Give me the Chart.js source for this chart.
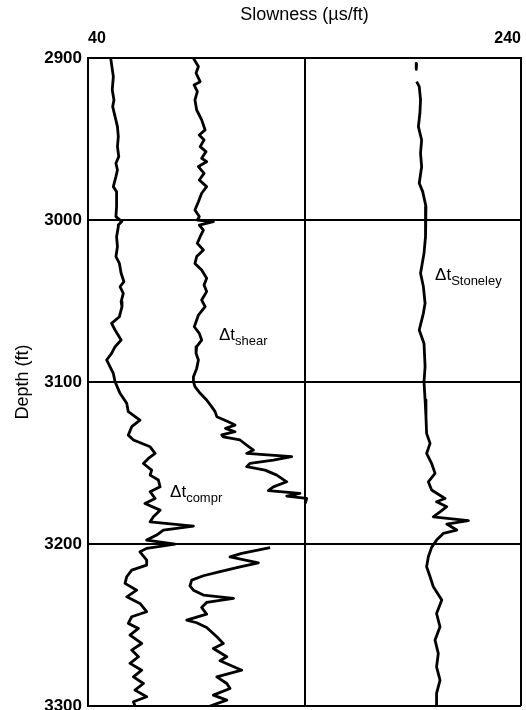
<!DOCTYPE html>
<html>
<head>
<meta charset="utf-8">
<script src="https://cdn.jsdelivr.net/npm/chart.js@4/dist/chart.umd.min.js"></script>
<style>
  html, body { margin: 0; padding: 0; background: white; overflow: hidden; }
  #wrap { width: 526px; height: 710px; }
</style>
</head>
<body>
<div id="wrap"><canvas id="log"></canvas></div>
<script>
// Color used for every line, grid and text in the log plot.
INK = 'black';
FONT = '"Liberation Sans", Arial, Helvetica, sans-serif';

// Depth axis (ft) and slowness axis (us/ft) ranges.
DEPTH_TICKS = [2900, 3000, 3100, 3200, 3300];
SLOWNESS_TICKS = [40, 140, 240];

// Compressional slowness trace.
COMPR_DEPTH = [2900.2, 2911.5, 2919.7, 2925.9, 2930.0, 2936.2, 2942.4, 2948.5, 2954.7, 2960.9,
    2965.0, 2969.1, 2973.2, 2979.4, 2982.5, 2991.7, 2997.9, 3001.0, 3003.1, 3004.1,
    3010.3, 3016.5, 3022.6, 3026.8, 3032.9, 3038.1, 3041.2, 3045.3, 3050.4, 3053.5,
    3059.7, 3063.8, 3067.9, 3074.1, 3078.2, 3082.3, 3086.4, 3090.6, 3094.7, 3099.8,
    3107.0, 3113.2, 3118.3, 3123.5, 3127.6, 3132.8, 3135.8, 3140.0, 3144.1, 3147.2,
    3150.3, 3154.4, 3157.5, 3160.5, 3164.7, 3167.7, 3171.9, 3175.0, 3179.1, 3183.2,
    3186.3, 3189.0, 3191.4, 3194.5, 3197.6, 3200.1, 3202.7, 3204.8, 3209.9, 3213.0,
    3216.1, 3220.2, 3224.3, 3228.5, 3232.6, 3236.7, 3241.8, 3244.9, 3249.0, 3252.1,
    3256.2, 3261.4, 3265.5, 3269.6, 3273.7, 3277.9, 3282.0, 3286.1, 3290.2, 3294.3,
    3297.4, 3300.0];
COMPR_SLOW = [50.5, 51.7, 51.2, 52.0, 51.4, 52.5, 53.6, 54.0, 53.6, 54.2,
    52.9, 53.6, 52.9, 51.7, 53.2, 53.2, 52.9, 55.6, 54.0, 54.0,
    53.2, 53.6, 52.9, 54.5, 55.3, 56.6, 54.8, 56.3, 55.3, 55.7,
    54.5, 50.9, 52.5, 55.3, 52.5, 50.9, 48.6, 50.2, 51.7, 52.5,
    54.8, 57.9, 58.6, 64.0, 60.2, 58.6, 61.0, 68.7, 71.0, 67.9,
    65.6, 69.4, 68.7, 72.5, 73.3, 68.7, 71.0, 66.3, 73.3, 70.2,
    68.7, 88.7, 74.8, 71.7, 67.1, 80.2, 67.1, 64.0, 67.1, 67.1,
    60.2, 57.9, 57.1, 62.5, 57.9, 64.0, 67.1, 60.2, 58.6, 63.3,
    59.4, 64.8, 60.2, 63.3, 59.4, 64.8, 61.0, 65.6, 61.7, 67.1,
    61.0, 61.7];

// Shear slowness trace (null marks the break in the record near 3170-3200 ft).
SHEAR_DEPTH = [2900.2, 2905.3, 2909.4, 2914.6, 2916.6, 2920.7, 2925.9, 2932.1, 2938.2, 2944.4,
    2947.5, 2950.6, 2954.7, 2957.8, 2961.9, 2964.0, 2967.0, 2971.2, 2975.3, 2979.4,
    2983.5, 2988.7, 2993.8, 2997.9, 3000.0, 3001.0, 3003.1, 3006.2, 3010.3, 3014.4,
    3018.5, 3022.6, 3026.8, 3030.9, 3036.0, 3040.1, 3044.2, 3049.4, 3053.5, 3058.7,
    3061.7, 3065.9, 3070.0, 3074.1, 3078.2, 3082.3, 3086.4, 3091.6, 3096.7, 3099.8,
    3102.9, 3107.0, 3111.1, 3115.2, 3118.3, 3121.4, 3124.5, 3126.6, 3128.6, 3130.7,
    3132.7, 3133.8, 3135.8, 3138.9, 3142.0, 3144.1, 3146.1, 3148.2, 3150.3, 3152.3,
    3154.4, 3157.5, 3161.6, 3164.7, 3167.1, 3168.8, 3170.4, 3171.9, 3175.0, 3188.0,
    3202.3, 3205.8, 3207.9, 3211.6, 3214.1, 3217.1, 3219.6, 3222.3, 3225.8, 3228.5,
    3231.5, 3233.6, 3236.1, 3239.2, 3243.3, 3247.0, 3248.6, 3251.5, 3257.3, 3261.4,
    3264.5, 3269.6, 3272.1, 3277.9, 3282.0, 3286.1, 3289.2, 3293.3, 3296.4, 3300.0];
SHEAR_SLOW = [88.7, 91.0, 89.9, 91.8, 89.0, 90.5, 89.4, 90.2, 92.5, 94.1,
    91.4, 93.6, 91.8, 94.5, 92.5, 94.8, 91.0, 93.6, 91.4, 94.8,
    92.5, 91.0, 89.4, 91.4, 90.5, 97.9, 91.4, 93.3, 91.8, 90.5,
    93.3, 90.2, 89.4, 92.5, 94.8, 93.6, 94.8, 92.5, 94.1, 91.0,
    90.2, 89.1, 91.4, 92.5, 90.2, 89.9, 91.0, 90.2, 88.7, 88.7,
    89.4, 91.8, 94.8, 97.1, 98.7, 99.5, 104.8, 107.9, 103.5, 107.9,
    101.8, 102.5, 110.2, 113.3, 116.4, 113.3, 134.1, 125.6, 114.8, 113.3,
    121.8, 127.2, 131.8, 125.6, 123.3, 137.9, 131.8, 141.0, 140.3, null,
    124.1, 111.0, 105.6, 118.7, 110.2, 101.0, 93.3, 87.9, 87.1, 88.7,
    93.3, 107.2, 94.8, 92.5, 94.8, 85.6, 90.2, 94.8, 99.5, 102.5,
    97.9, 104.1, 101.0, 111.0, 99.5, 104.1, 105.6, 97.9, 104.1, 96.4];

// Stoneley slowness trace (short isolated dash at the top, then the main record).
STONELEY_DEPTH = [2903.3, 2907.0, 2910.5,
    2914.6, 2917.7, 2925.9, 2934.1, 2942.4, 2950.6, 2958.8, 2967.1, 2977.3, 2982.5,
    2991.7, 2999.6, 3010.3, 3020.6, 3032.9, 3041.1, 3051.4, 3057.6, 3067.9, 3076.2,
    3090.6, 3100.0, 3111.1, 3121.4, 3131.7, 3137.9, 3144.1, 3150.2, 3156.4, 3161.6,
    3166.7, 3171.9, 3173.9, 3177.0, 3180.1, 3183.2, 3185.6, 3187.7, 3191.4, 3193.5,
    3197.6, 3202.1, 3207.9, 3214.0, 3220.2, 3226.4, 3234.6, 3242.9, 3251.1, 3259.3,
    3267.6, 3275.8, 3284.0, 3292.2, 3300.0];
STONELEY_SLOW = [191.8, 191.6, null,
    191.8, 193.0, 193.6, 193.3, 192.6, 194.1, 193.6, 194.1, 193.0, 194.6,
    196.1, 195.7, 196.1, 195.2, 193.6, 194.9, 195.7, 194.9, 193.0, 195.2,
    195.7, 195.2, 195.7, 196.1, 196.4, 198.0, 196.4, 198.7, 200.3, 197.2,
    198.7, 204.9, 201.0, 205.7, 202.6, 199.5, 215.7, 205.7, 210.3, 204.1,
    201.0, 198.7, 197.2, 196.4, 198.0, 199.5, 203.4, 201.0, 202.6, 200.3,
    201.8, 201.0, 202.6, 201.0, 201.0];

// Curve labels: text, subscript, slowness and depth of the label's baseline start.
LABEL_TEXT = ['\u0394t', '\u0394t', '\u0394t'];
LABEL_SUB = ['shear', 'compr', 'Stoneley'];
LABEL_SLOW = [100.5, 77.9, 200.3];
LABEL_DEPTH = [3074.1, 3171.0, 3037.0];

function toPoints(depths, values) {
    return depths.map(function(d, i) {
        return values[i] === null ? {x: null, y: null} : {x: values[i], y: d};
    });
}

function traceDataset(label, depths, values) {
    return {
        label: label,
        data: toPoints(depths, values),
        showLine: true,
        borderColor: INK,
        backgroundColor: INK,
        borderWidth: 2.8,
        borderJoinStyle: 'round',
        pointRadius: 0,
        tension: 0,
        spanGaps: false,
    };
}

// The tick labels should not push the plot area inwards.
function noLabelPadding(scale) {
    scale.paddingLeft = 0;
    scale.paddingRight = 0;
    scale.paddingTop = 0;
    scale.paddingBottom = 0;
}

// Draws the delta-t labels with their subscripts next to each trace.
const curveLabels = {
    id: 'curveLabels',
    afterDatasetsDraw(chart) {
        const ctx = chart.ctx;
        const xs = chart.scales.x;
        const ys = chart.scales.y;
        ctx.save();
        ctx.fillStyle = INK;
        ctx.textBaseline = 'alphabetic';
        ctx.textAlign = 'left';
        LABEL_TEXT.forEach(function(text, i) {
            const px = xs.getPixelForValue(LABEL_SLOW[i]);
            const py = ys.getPixelForValue(LABEL_DEPTH[i]);
            ctx.font = '17px ' + FONT;
            ctx.fillText(text, px, py);
            const w = ctx.measureText(text).width;
            ctx.font = '13px ' + FONT;
            ctx.fillText(LABEL_SUB[i], px + w, py + 5);
        });
        ctx.restore();
    }
};

const ctx = document.getElementById('log').getContext('2d');
new Chart(ctx, {
    type: 'scatter',
    data: {
        datasets: [
            traceDataset('compr', COMPR_DEPTH, COMPR_SLOW),
            traceDataset('shear', SHEAR_DEPTH, SHEAR_SLOW),
            traceDataset('Stoneley', STONELEY_DEPTH, STONELEY_SLOW),
        ]
    },
    options: {
        responsive: true,
        maintainAspectRatio: false,
        animation: false,
        layout: {
            padding: {left: 0, right: 5, top: 0, bottom: 4},
        },
        scales: {
            x: {
                type: 'linear',
                position: 'top',
                min: 40,
                max: 240,
                afterBuildTicks: function(scale) {
                    scale.ticks = SLOWNESS_TICKS.map(function(v) { return {value: v}; });
                },
                afterFit: function(scale) {
                    scale.height = 58;
                    noLabelPadding(scale);
                },
                ticks: {
                    align: 'inner',
                    color: INK,
                    padding: 10,
                    font: {family: FONT, size: 16, weight: 'bold'},
                    callback: function(v) { return v === 140 ? '' : String(v); },
                },
                grid: {
                    color: INK,
                    lineWidth: 2,
                    drawTicks: false,
                },
                border: {display: true, color: INK, width: 2},
                title: {
                    display: true,
                    text: 'Slowness (\u00b5s/ft)',
                    color: INK,
                    font: {family: FONT, size: 18},
                    padding: {top: 4, bottom: 0},
                },
            },
            y: {
                type: 'linear',
                reverse: true,
                min: 2900,
                max: 3300,
                afterBuildTicks: function(scale) {
                    scale.ticks = DEPTH_TICKS.map(function(v) { return {value: v}; });
                },
                afterFit: function(scale) {
                    scale.width = 88;
                    noLabelPadding(scale);
                },
                ticks: {
                    color: INK,
                    padding: 6,
                    font: {family: FONT, size: 17, weight: 'bold'},
                    callback: function(v) { return String(v); },
                },
                grid: {
                    color: INK,
                    lineWidth: 2,
                    drawTicks: false,
                },
                border: {display: true, color: INK, width: 2},
                title: {
                    display: true,
                    text: 'Depth (ft)',
                    color: INK,
                    font: {family: FONT, size: 18},
                    padding: {top: 12, bottom: 0},
                },
            },
        },
        plugins: {
            legend: {display: false},
            tooltip: {enabled: false},
        },
    },
    plugins: [curveLabels],
});
</script>
</body>
</html>
